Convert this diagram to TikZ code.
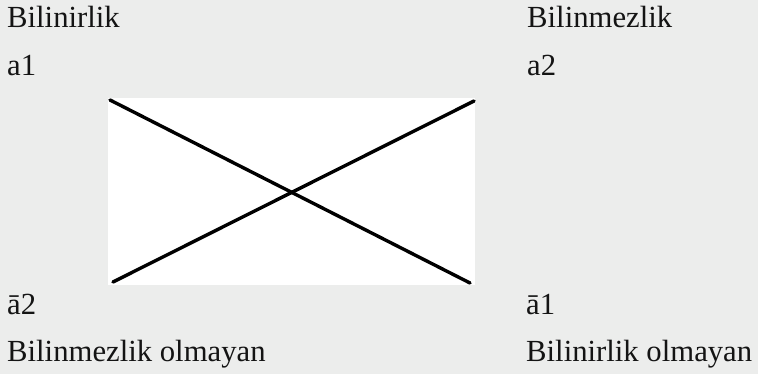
\documentclass[tikz,border=0pt]{standalone}
\usepackage{fontspec}
\setmainfont{Liberation Serif}
\definecolor{bggray}{HTML}{ECEDEC}
\begin{document}
\begin{tikzpicture}[x=1pt,y=-1pt,
  lbl/.style={anchor=base west,inner sep=0pt,font=\fontsize{30.7}{36}\selectfont,text=black!92},
  cross/.style={line width=3.4pt,line cap=round,black}]
\fill[bggray] (0,0) rectangle (758,374);
\useasboundingbox (0,0) rectangle (758,374);
\node[fill=white,inner sep=0pt,minimum width=367pt,minimum height=187pt,anchor=north west] (box) at (108,98) {};
\coordinate (tl) at (110,100);
\coordinate (br) at (470,283);
\coordinate (bl) at (113,282);
\coordinate (tr) at (474,101);
\draw[cross] (tl) -- (br);
\draw[cross] (bl) -- (tr);
\node[lbl] (t1) at (7,28) {Bilinirlik};
\node[lbl] (t2) at (7,76) {a1};
\node[lbl] (t3) at (527,28) {Bilinmezlik};
\node[lbl] (t4) at (527,76) {a2};
\node[lbl] (t5) at (7,314) {ā2};
\node[lbl] (t6) at (7,361) {Bilinmezlik olmayan};
\node[lbl] (t7) at (526,314) {ā1};
\node[lbl] (t8) at (526,361) {Bilinirlik olmayan};
\end{tikzpicture}
\end{document}
